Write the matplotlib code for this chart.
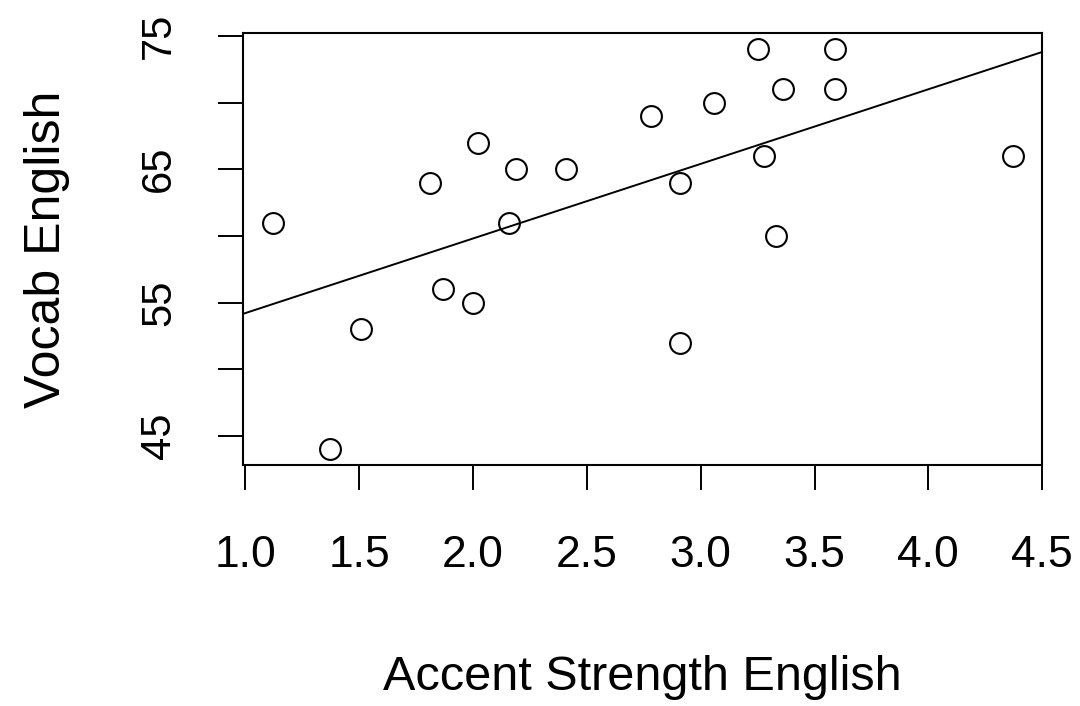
import numpy as np
import matplotlib
matplotlib.use("Agg")
import matplotlib.pyplot as plt

plt.rcParams["font.family"] = ["Liberation Sans", "DejaVu Sans"]

# valores
accent = [1.12, 1.37, 1.51, 1.81, 1.87, 2.00, 2.02, 2.16, 2.19, 2.41, 2.78,
          2.91, 2.91, 3.06, 3.25, 3.28, 3.33, 3.36, 3.59, 3.59, 4.37]
vocab = [61, 44, 53, 64, 56, 55, 67, 61, 65, 65, 69,
         64, 52, 70, 74, 66, 60, 71, 74, 71, 66]

xticks = [1.0, 1.5, 2.0, 2.5, 3.0, 3.5, 4.0, 4.5]
yticks = [45, 50, 55, 60, 65, 70, 75]
ylabels = ["45", "", "55", "", "65", "", "75"]

x = np.array(accent)
y = np.array(vocab)
pend, inter = np.polyfit(x, y, 1)   # recta de regresion (abline(lm))

fig = plt.figure(figsize=(10.8, 7.06), dpi=100)
ax = fig.add_axes([0.225, 0.341, 0.740, 0.612])

ax.plot(x, y, "o", mfc="none", mec="black", ms=15, mew=1.5)
ax.axline((0, inter), slope=pend, color="black", lw=1.4)

# limites al estilo R (4% extra)
rx = x.max() - x.min()
ry = y.max() - y.min()
ax.set_xlim(x.min() - 0.04 * rx, x.max() + 0.04 * rx)
ax.set_ylim(y.min() - 0.04 * ry, y.max() + 0.04 * ry)

ax.set_xticks(xticks)
ax.set_xticklabels([f"{v:.1f}" for v in xticks])
ax.set_yticks(yticks)
ax.set_yticklabels(ylabels, rotation=90, va="center")

ax.tick_params(axis="both", direction="out", length=18, width=1.4,
               color="black")
ax.tick_params(axis="x", pad=32, labelsize=32)
ax.tick_params(axis="y", pad=28, labelsize=30)
for s in ax.spines.values():
    s.set_linewidth(1.5)

ax.set_xlabel("Accent Strength English", fontsize=35, labelpad=57)
ax.set_ylabel("Vocab English", fontsize=36, labelpad=50)

fig.savefig("out.png", dpi=100)
